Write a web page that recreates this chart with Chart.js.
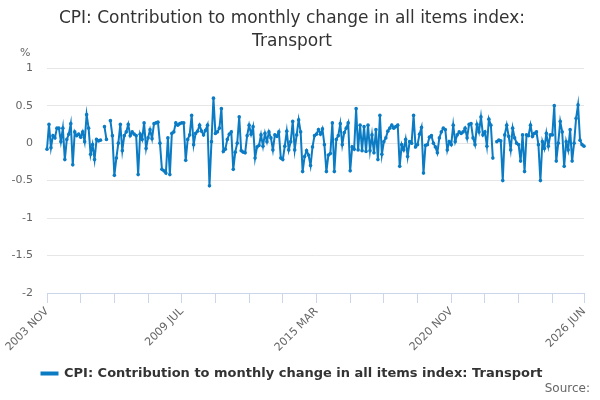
<!DOCTYPE html>
<html>
<head>
<meta charset="utf-8">
<script src="https://cdn.jsdelivr.net/npm/chart.js@4.4.1/dist/chart.umd.min.js"></script>
<style>
  html, body { margin: 0; padding: 0; background: #fff; }
  #wrap { width: 600px; height: 400px; }
</style>
</head>
<body>
<div id="wrap"><canvas id="cpi" width="600" height="400"></canvas></div>
<script>
// --- data ---
const monthNames = ['JAN', 'FEB', 'MAR', 'APR', 'MAY', 'JUN', 'JUL', 'AUG', 'SEP', 'OCT', 'NOV', 'DEC'];
const firstYear = 2003, firstMonth = 10;   // 2003 NOV
const lastYear = 2026, lastMonth = 5;      // 2026 JUN

// monthly contribution, percentage points (null = no value)
const transport = [
  -0.08, 0.25, -0.06, 0.1, 0.07, 0.2, 0.2, 0.02, 0.2, -0.22, 0.05, 0.12,
  0.26, -0.29, 0.15, 0.1, 0.12, 0.08, 0.15, 0.02, 0.38, 0.2, -0.15, -0.02,
  -0.22, 0.05, 0.03, 0.04, null, 0.22, 0.05, null, 0.3, 0.1, -0.43, -0.2,
  0.0, 0.25, -0.1, 0.1, 0.15, 0.25, 0.1, 0.15,
  0.12, 0.1, -0.42, 0.12, 0.05, 0.27, -0.07, 0.07, 0.18, 0.06, 0.26, 0.27,
  0.28, 0.0, -0.35, -0.37, -0.4, 0.07, -0.42, 0.13, 0.15, 0.27, 0.24, 0.26,
  0.27, 0.27, -0.23, 0.05, 0.11, 0.37, -0.02, 0.13, 0.16, 0.24, 0.16, 0.11,
  0.17, 0.24, -0.57, 0.02, 0.6, 0.13, 0.15, 0.2, 0.46, -0.11,
  -0.08, 0.05, 0.12, 0.15, -0.35, -0.12, 0.0, 0.35, -0.1, -0.12, -0.13, 0.1,
  0.24, 0.12, 0.22, -0.2, -0.05, -0.03, 0.11, -0.04, 0.13, 0.02, 0.15, 0.07,
  -0.09, 0.11, 0.09, 0.15, -0.2, -0.22, -0.04, 0.16, -0.09, 0.02, 0.29, -0.09,
  0.11, 0.31, 0.15, -0.38, -0.18, -0.1, -0.16, -0.3, -0.05, 0.1,
  0.12, 0.18, 0.12, 0.19, -0.02, -0.38, -0.16, -0.14, 0.27, -0.38, 0.05, 0.1,
  0.26, -0.02, 0.14, 0.2, 0.27, -0.37, -0.05, -0.08, 0.46, -0.09, 0.24, -0.1,
  0.22, -0.11, 0.24, -0.1, 0.11, -0.13, 0.18, -0.22, 0.37, -0.15, 0.02, 0.07,
  0.16, 0.2, 0.24, 0.2, 0.22, 0.24, -0.31, -0.02, -0.09,
  0.05, -0.18, 0.02, 0.0, 0.37, -0.05, -0.02, 0.12, 0.21, -0.4, -0.03, -0.02,
  0.08, 0.1, 0.0, -0.05, -0.13, 0.07, 0.15, 0.2, 0.18, -0.09, 0.02, -0.02,
  0.24, 0.02, 0.11, 0.15, 0.13, 0.15, 0.2, 0.07, 0.25, 0.26, 0.07, -0.02,
  0.25, 0.15, 0.35, 0.11, 0.15, -0.04, 0.32, 0.24, -0.2,
  null, 0.02, 0.04, 0.03, -0.5, 0.11, 0.24, 0.09, -0.09, 0.2, 0.07, 0.0,
  -0.02, -0.24, 0.11, -0.38, 0.11, 0.1, 0.24, 0.09, 0.13, 0.15, -0.02, -0.5,
  0.02, -0.07, 0.13, -0.04, 0.11, 0.11, 0.5, -0.24, 0.0, 0.29, 0.15, -0.31,
  0.02, -0.09, 0.18, -0.24, 0.0, 0.33, 0.51, 0.04, -0.02, -0.04
];

const yMin = -2, yMax = 1, yStep = 0.5;
const tickEvery = 17;      // small tick marks on the x axis
const labelEvery = 68;     // labelled ticks

// build the month categories
const months = [];
for (let y = firstYear, m = firstMonth; y < lastYear || (y === lastYear && m <= lastMonth); m++) {
  if (m > 11) { m = 0; y++; }
  if (y > lastYear || (y === lastYear && m > lastMonth)) break;
  months.push(y + ' ' + monthNames[m]);
}

const lineColor = '#0b7bc4';
const titleText = ['CPI: Contribution to monthly change in all items index:', 'Transport'];
const seriesName = 'CPI: Contribution to monthly change in all items index: Transport';

// "%" unit label above the value axis, "Source:" credit bottom right
const extraText = {
  id: 'extraText',
  afterDraw(chart) {
    const { ctx, chartArea, width } = chart;
    ctx.save();
    ctx.font = '11px "DejaVu Sans"';
    ctx.fillStyle = '#666';
    ctx.textAlign = 'left';
    ctx.textBaseline = 'middle';
    ctx.fillText('%', chartArea.left - 27, chartArea.top - 15);
    ctx.font = '12px "DejaVu Sans"';
    ctx.textAlign = 'right';
    ctx.fillText('Source:', width - 10, 389);
    ctx.restore();
  }
};

new Chart(document.getElementById('cpi'), {
  type: 'line',
  data: {
    labels: months,
    datasets: [{
      label: seriesName,
      data: transport,
      borderColor: lineColor,
      backgroundColor: lineColor,
      borderWidth: 2,
      pointRadius: 1.8,
      pointBorderWidth: 0,
      pointBackgroundColor: lineColor,
      tension: 0,
      spanGaps: false
    }]
  },
  options: {
    responsive: false,
    devicePixelRatio: 1,
    animation: false,
    events: [],
    layout: { padding: { left: 0, right: 16, top: 0, bottom: 10 } },
    plugins: {
      title: {
        display: true,
        text: titleText,
        color: '#333',
        font: { family: 'DejaVu Sans', size: 17, weight: 'normal', lineHeight: 1.3 },
        padding: { top: 8, bottom: 16 }
      },
      legend: {
        position: 'bottom',
        labels: {
          color: '#333',
          font: { family: 'DejaVu Sans', size: 13, weight: 'bold' },
          boxWidth: 16,
          boxHeight: 2,
          padding: 7
        }
      },
      tooltip: { enabled: false }
    },
    scales: {
      x: {
        offset: false,
        border: { color: '#ccd6eb', width: 1 },
        grid: {
          drawOnChartArea: false,
          drawTicks: true,
          tickLength: 10,
          color: '#ccd6eb'
        },
        afterBuildTicks(scale) {
          const t = [];
          for (let i = 0; i < months.length; i += tickEvery) t.push({ value: i });
          if (t[t.length - 1].value !== months.length - 1) t.push({ value: months.length - 1 });
          scale.ticks = t;
        },
        afterFit(scale) { scale.height = 67; },
        ticks: {
          autoSkip: false,
          minRotation: 45,
          maxRotation: 45,
          color: '#666',
          padding: 2,
          font: { family: 'DejaVu Sans', size: 11 },
          callback(value) {
            if (value % labelEvery === 0 || value === months.length - 1) return months[value];
            return '';
          }
        }
      },
      y: {
        min: yMin,
        max: yMax,
        border: { display: false },
        grid: { color: '#e6e6e6', drawTicks: false },
        afterFit(scale) { scale.width = 47; },
        ticks: {
          stepSize: yStep,
          color: '#666',
          padding: 14,
          font: { family: 'DejaVu Sans', size: 11 },
          callback(value) { return String(value); }
        }
      }
    }
  },
  plugins: [extraText]
});
</script>
</body>
</html>
